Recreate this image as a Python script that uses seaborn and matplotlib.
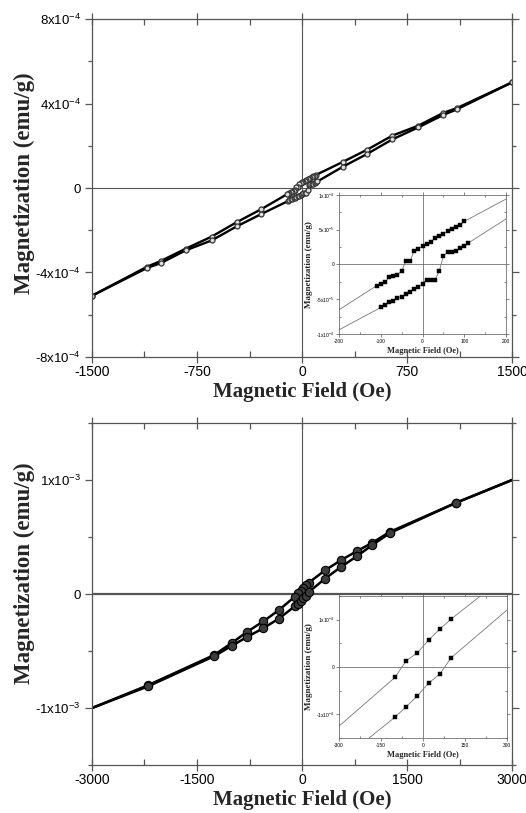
import pandas as pd
import numpy as np
import matplotlib
matplotlib.use("Agg")
import matplotlib.pyplot as plt
from matplotlib.ticker import MultipleLocator, FixedLocator
import seaborn as sns

# ---- top panel loop (field in Oe, magnetization in emu/g) ----
top_field_desc = [1500, 1105, 1010, 830, 645, 467, 290, 100, 90, 80, 70, 60, 50, 40, 30, 20, 10, 0,
                  -10, -20, -30, -40, -50, -60, -70, -80, -90, -100, -110,
                  -290, -467, -645, -830, -1010, -1105, -1500]
top_mag_desc = [5.0e-4, 3.78e-4, 3.56e-4, 2.95e-4, 2.48e-4, 1.82e-4, 1.23e-4,
                6.2e-5, 5.67e-5, 5.45e-5, 5.1e-5, 4.76e-5, 4.45e-5, 4.1e-5, 3.75e-5, 3.3e-5, 2.95e-5, 2.62e-5,
                2.29e-5, 2.0e-5, 0.43e-5, 0.43e-5, -0.9e-5, -1.52e-5, -1.67e-5, -1.86e-5, -2.57e-5, -2.86e-5, -3.05e-5,
                -1.0e-4, -1.62e-4, -2.3e-4, -2.87e-4, -3.46e-4, -3.72e-4, -5.1e-4]
top_field_asc = [-1500, -1105, -1010, -830, -645, -467, -290, -100, -90, -80, -70, -60, -50, -40, -30, -20, -10, 0,
                 10, 20, 30, 40, 50, 60, 70, 80, 90, 100, 110,
                 290, 467, 645, 830, 1010, 1105, 1500]
top_mag_asc = [-5.1e-4, -3.78e-4, -3.56e-4, -2.95e-4, -2.48e-4, -1.82e-4, -1.23e-4,
               -6.19e-5, -5.9e-5, -5.43e-5, -5.19e-5, -4.81e-5, -4.62e-5, -4.29e-5, -3.9e-5, -3.57e-5, -3.24e-5, -2.76e-5,
               -2.19e-5, -2.19e-5, -2.19e-5, -1.0e-5, 1.24e-5, 1.76e-5, 1.76e-5, 1.95e-5, 2.33e-5, 2.67e-5, 3.1e-5,
               1.0e-4, 1.62e-4, 2.3e-4, 2.87e-4, 3.46e-4, 3.72e-4, 5.0e-4]

# ---- bottom panel loop ----
bot_field_desc = [3000, 2200, 1255, 1005, 780, 553, 329, 100, 60, 20, -20, -60, -100,
                  -329, -553, -780, -1005, -1255, -2200, -3000]
bot_mag_desc = [1.0e-3, 0.80e-3, 0.545e-3, 0.45e-3, 0.375e-3, 0.295e-3, 0.208e-3,
                1.01e-4, 0.80e-4, 0.57e-4, 0.30e-4, 0.13e-4, -0.22e-4,
                -0.14e-3, -0.24e-3, -0.33e-3, -0.43e-3, -0.535e-3, -0.80e-3, -1.0e-3]
bot_field_asc = [-3000, -2200, -1255, -1005, -780, -553, -329, -100, -60, -20, 20, 60, 100,
                 329, 553, 780, 1005, 1255, 2200, 3000]
bot_mag_asc = [-1.0e-3, -0.81e-3, -0.545e-3, -0.455e-3, -0.375e-3, -0.30e-3, -0.215e-3,
               -1.06e-4, -0.84e-4, -0.61e-4, -0.34e-4, -0.15e-4, 0.19e-4,
               0.135e-3, 0.236e-3, 0.33e-3, 0.43e-3, 0.535e-3, 0.80e-3, 1.0e-3]

# tick labels
top_yticks = [-8e-4, -4e-4, 0, 4e-4, 8e-4]
top_ylabels = ["-8x10$^{-4}$", "-4x10$^{-4}$", "0", "4x10$^{-4}$", "8x10$^{-4}$"]
bot_yticks = [-1e-3, 0, 1e-3]
bot_ylabels = ["-1x10$^{-3}$", "0", "1x10$^{-3}$"]
ins1_yticks = [-1e-4, -5e-5, 0, 5e-5, 1e-4]
ins1_ylabels = ["-1x10$^{-4}$", "-5x10$^{-5}$", "0", "5x10$^{-5}$", "1x10$^{-4}$"]
ins2_yticks = [-1e-4, 0, 1e-4]
ins2_ylabels = ["-1x10$^{-4}$", "0", "1x10$^{-4}$"]

sns.set_style("ticks")
plt.rcParams['font.family'] = ['Liberation Sans', 'DejaVu Sans']
plt.rcParams['mathtext.default'] = 'regular'
plt.rcParams['axes.unicode_minus'] = False

LABEL_FONT = dict(family='Liberation Serif', weight='bold')


def draw_loop(ax, fields, mags, **kw):
    # each branch of the loop drawn in measurement order
    for f, m in zip(fields, mags):
        df = pd.DataFrame({'H': f, 'M': m})
        sns.lineplot(data=df, x='H', y='M', sort=False, estimator=None, ax=ax, **kw)


def style_axes(ax, xlim, ylim, xmaj, xmin, ymaj_ticks, ymaj_labels, ymin, big=True, zero_lw=0.8, ylab_y=0.5):
    ax.set_xlim(*xlim)
    ax.set_ylim(*ylim)
    ax.axhline(0, color='#555555', lw=zero_lw, zorder=0)
    ax.axvline(0, color='#555555', lw=0.8 if big else 0.5, zorder=0)
    ax.xaxis.set_major_locator(MultipleLocator(xmaj))
    ax.xaxis.set_minor_locator(MultipleLocator(xmin))
    ax.yaxis.set_major_locator(FixedLocator(ymaj_ticks))
    ax.set_yticklabels(ymaj_labels)
    ax.yaxis.set_minor_locator(MultipleLocator(ymin))
    for s in ax.spines.values():
        s.set_color('#555555')
        s.set_linewidth(0.9 if big else 0.5)
        s.set_visible(True)
    if big:
        ax.tick_params(axis='y', which='major', direction='out', length=5, width=0.9, labelsize=9.5, colors='#555555', labelcolor='black', pad=3)
        ax.tick_params(axis='y', which='minor', direction='out', length=3, width=0.9, colors='#555555')
        ax.tick_params(axis='x', which='major', direction='inout', length=8, width=0.9, labelsize=10, colors='#555555', labelcolor='black', pad=2)
        ax.tick_params(axis='x', which='minor', direction='in', length=4, width=0.9, colors='#555555')
        ax.tick_params(which='both', top=True, right=True)
        ax.tick_params(axis='both', which='major', labeltop=False, labelright=False)
        ax.set_xlabel('Magnetic Field (Oe)', fontsize=15, labelpad=2, **LABEL_FONT)
        ax.set_ylabel('Magnetization (emu/g)', fontsize=16.5, **LABEL_FONT)
        ax.yaxis.set_label_coords(-0.136, ylab_y)
    else:
        ax.tick_params(which='major', direction='out', length=2, width=0.5, labelsize=3.5, pad=1.5, colors='#555555', labelcolor='black')
        ax.tick_params(which='minor', direction='in', length=1.2, width=0.5, colors='#555555')
        ax.tick_params(which='both', top=True, right=True)
        ax.set_xlabel('Magnetic Field (Oe)', fontsize=6, labelpad=2, **LABEL_FONT)
        ax.set_ylabel('Magnetization (emu/g)', fontsize=6.5, labelpad=2, **LABEL_FONT)


fig = plt.figure(figsize=(5.26, 8.13), dpi=100)
ax_top = fig.add_axes([0.1749, 0.5609, 0.7985, 0.4157])
ax_bot = fig.add_axes([0.1749, 0.0590, 0.7985, 0.4207])

# top main panel
draw_loop(ax_top, [top_field_desc, top_field_asc], [top_mag_desc, top_mag_asc],
          color='black', lw=1.7, marker='o', markersize=3.6, markerfacecolor='#dddddd',
          markeredgecolor='#333333', markeredgewidth=0.9)
style_axes(ax_top, (-1500, 1500), (-8e-4, 8e-4), 750, 375, top_yticks, top_ylabels, 2e-4, ylab_y=0.515)

# bottom main panel (no marker on the end points of the sweep)
n_bot = len(bot_field_desc)
draw_loop(ax_bot, [bot_field_desc, bot_field_asc], [bot_mag_desc, bot_mag_asc],
          color='black', lw=1.8, marker='o', markersize=6, markerfacecolor='#3c3c3c',
          markeredgecolor='black', markeredgewidth=0.8, markevery=list(range(1, n_bot - 1)))
style_axes(ax_bot, (-3000, 3000), (-1.5e-3, 1.5e-3), 1500, 750, bot_yticks, bot_ylabels, 5e-4,
           zero_lw=1.6, ylab_y=0.56)

# insets
ins_top = fig.add_axes([0.6445, 0.5892, 0.3175, 0.1710])
ins_top.set_facecolor('white')
draw_loop(ins_top, [top_field_desc, top_field_asc], [top_mag_desc, top_mag_asc],
          color='#777777', lw=0.6, marker='s', markersize=2.2, markerfacecolor='black',
          markeredgecolor='black', markeredgewidth=0.3)
style_axes(ins_top, (-200, 200), (-1e-4, 1e-4), 100, 50, ins1_yticks, ins1_ylabels, 2.5e-5, big=False, zero_lw=0.5)

ins_bot = fig.add_axes([0.6445, 0.0923, 0.3194, 0.1747])
ins_bot.set_facecolor('white')
draw_loop(ins_bot, [bot_field_desc, bot_field_asc], [bot_mag_desc, bot_mag_asc],
          color='#777777', lw=0.6, marker='s', markersize=2.2, markerfacecolor='black',
          markeredgecolor='black', markeredgewidth=0.3)
style_axes(ins_bot, (-300, 300), (-1.5e-4, 1.5e-4), 150, 75, ins2_yticks, ins2_ylabels, 5e-5, big=False, zero_lw=0.5)

fig.savefig('out.png', dpi=100)
